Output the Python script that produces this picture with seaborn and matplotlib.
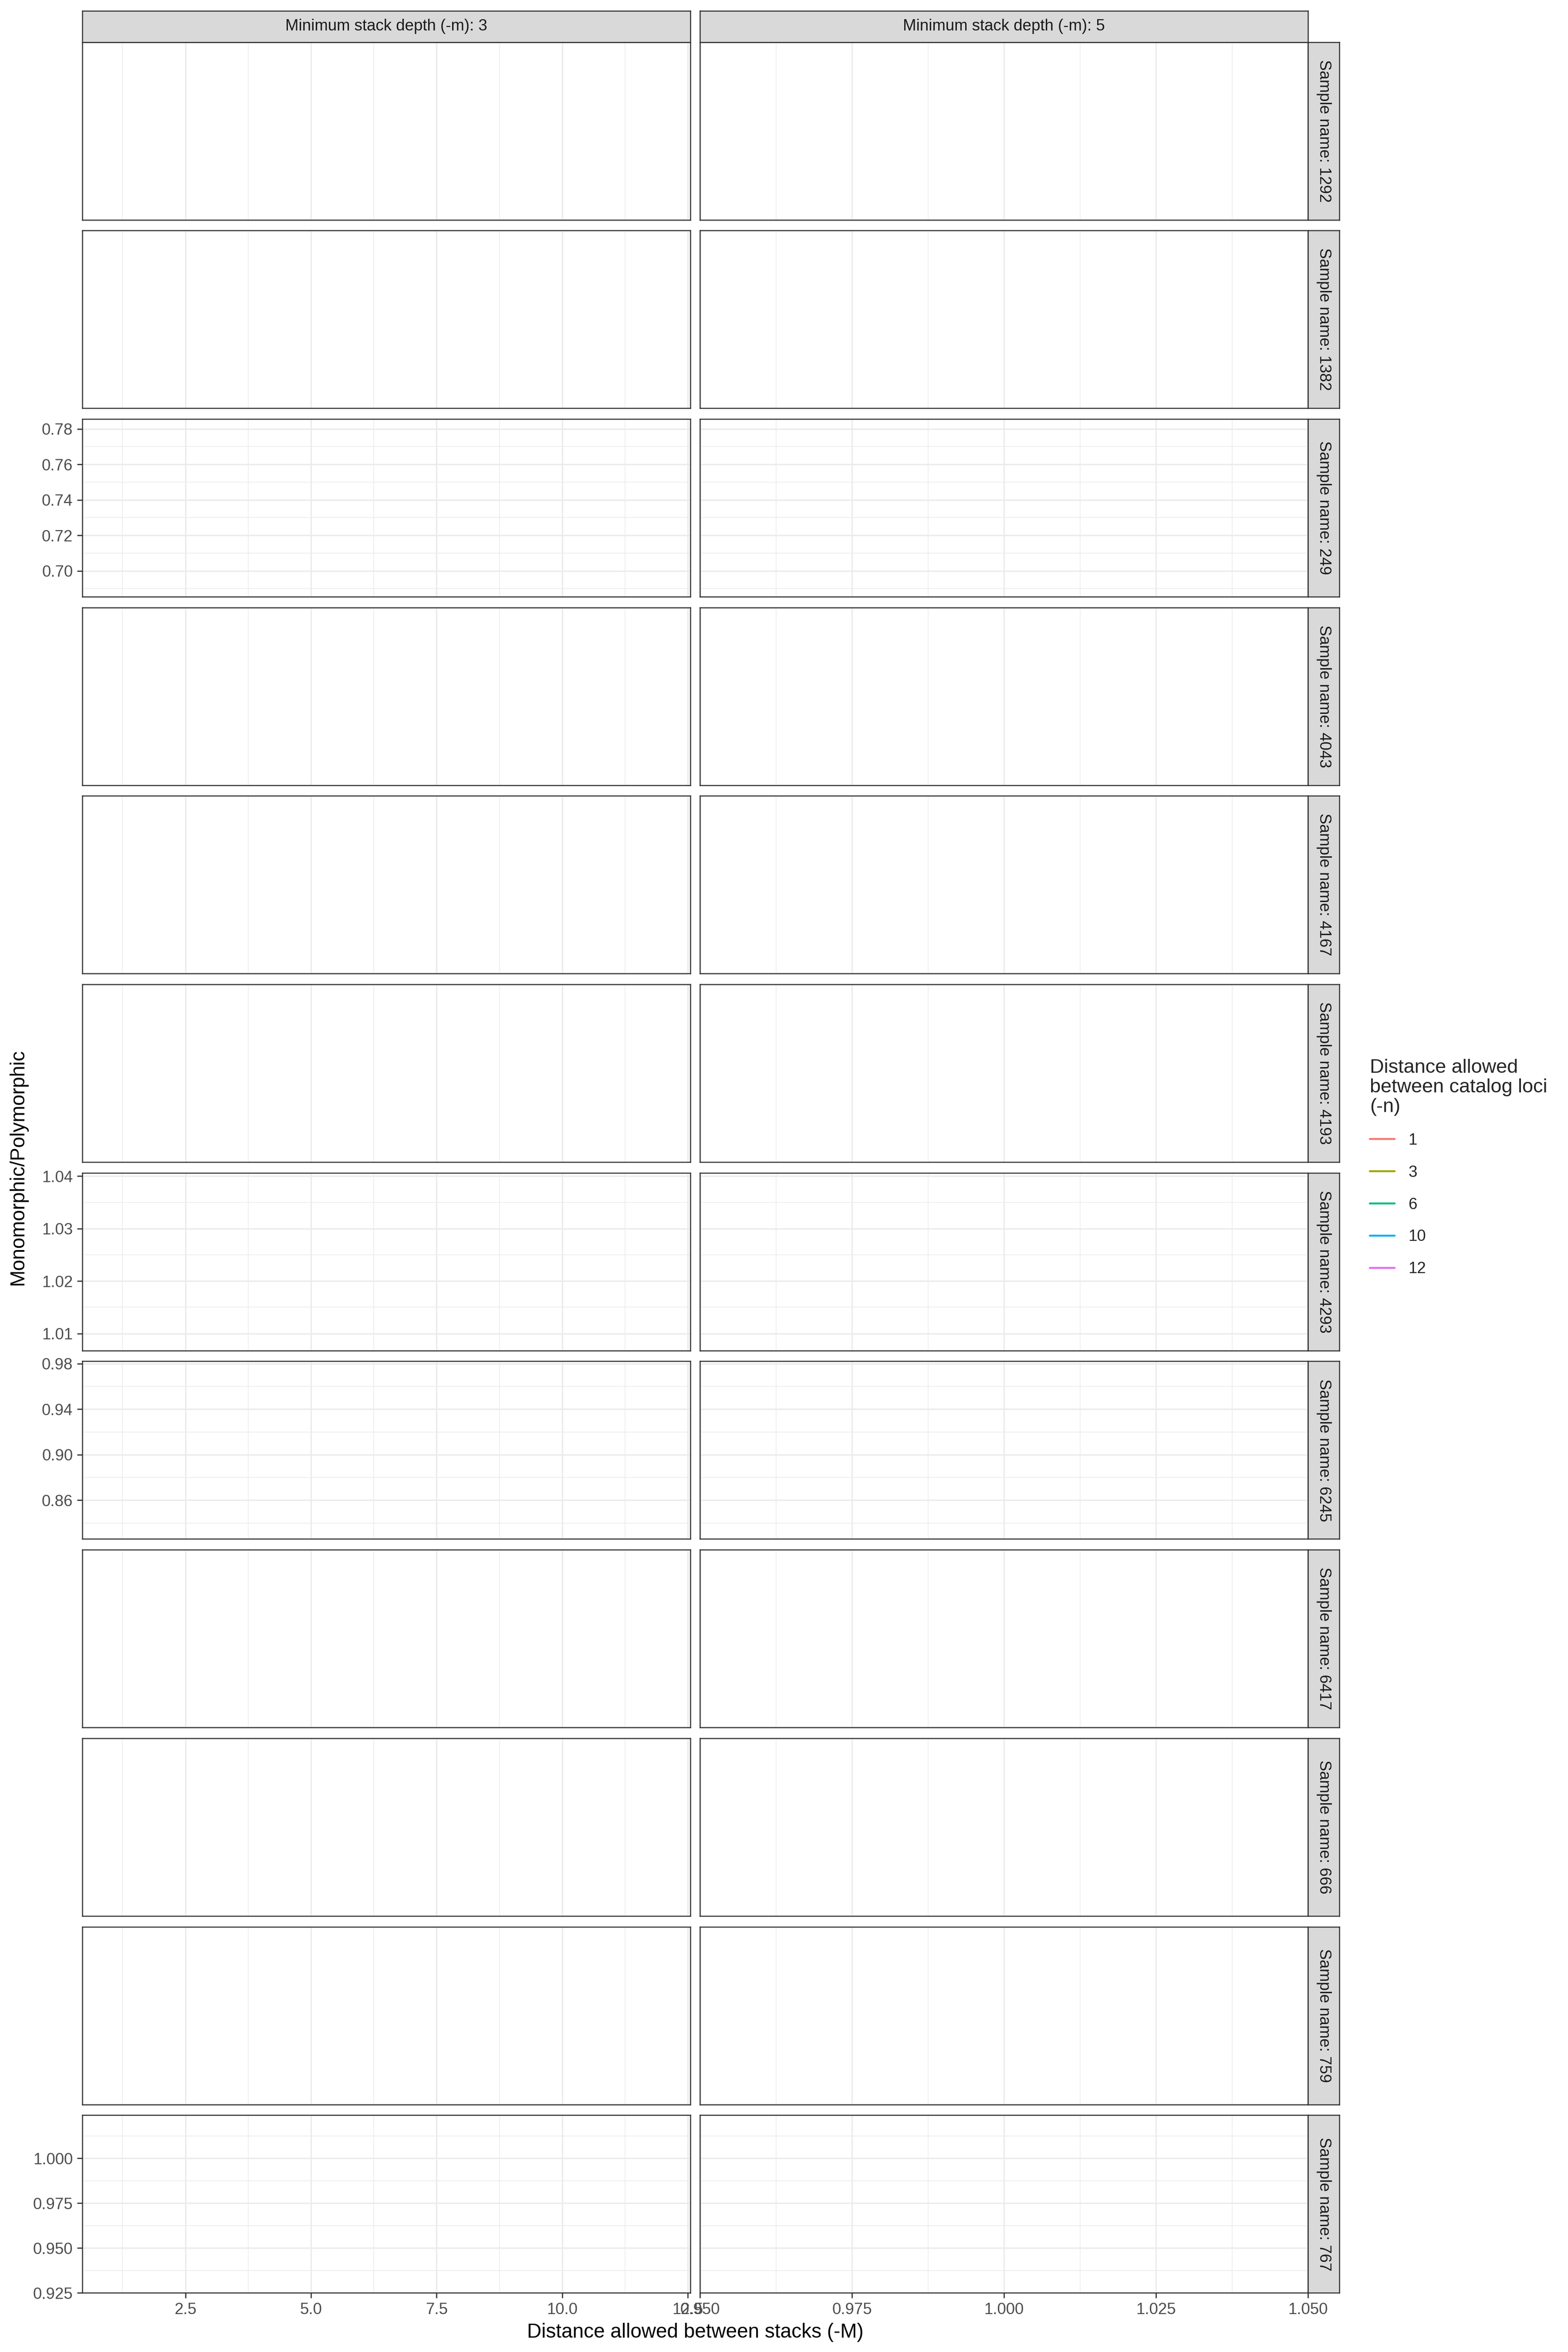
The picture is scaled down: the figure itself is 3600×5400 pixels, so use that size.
import matplotlib
matplotlib.use("Agg")
import matplotlib.pyplot as plt
import seaborn as sns
import pandas as pd
from matplotlib.lines import Line2D
from matplotlib.ticker import FixedLocator, MultipleLocator

# --- Data ---
samples = ["1292", "1382", "249", "4043", "4167", "4193",
           "4293", "6245", "6417", "666", "759", "767"]
min_depths = [3, 5]
n_levels = ["1", "3", "6", "10", "12"]
n_colors = ["#F8766D", "#A3A500", "#00BF7D", "#00B0F6", "#E76BF3"]

# every (sample, -m, -n) group holds a single point, so no line segment is drawn
pt_sample = ["249", "249", "249", "4293", "4293", "4293",
             "6245", "6245", "6245", "767", "767", "767"]
pt_m = [3, 3, 5, 3, 3, 5, 3, 3, 5, 3, 3, 5]
pt_M = [1, 12, 1, 1, 12, 1, 1, 12, 1, 1, 12, 1]
pt_n = ["1", "12", "3", "1", "12", "3", "1", "12", "3", "1", "12", "3"]
pt_ratio = [0.781, 0.690, 0.735, 1.0391, 1.0083, 1.021,
            0.975, 0.833, 0.905, 1.0195, 0.9295, 0.975]

y_breaks = {
    "249": [0.70, 0.72, 0.74, 0.76, 0.78],
    "4293": [1.01, 1.02, 1.03, 1.04],
    "6245": [0.86, 0.90, 0.94, 0.98],
    "767": [0.925, 0.950, 0.975, 1.000],
}
y_labels = {
    "249": ["0.70", "0.72", "0.74", "0.76", "0.78"],
    "4293": ["1.01", "1.02", "1.03", "1.04"],
    "6245": ["0.86", "0.90", "0.94", "0.98"],
    "767": ["0.925", "0.950", "0.975", "1.000"],
}
x_breaks = {3: [2.5, 5.0, 7.5, 10.0, 12.5], 5: [0.950, 0.975, 1.000, 1.025, 1.050]}
x_labels = {3: ["2.5", "5.0", "7.5", "10.0", "12.5"],
            5: ["0.950", "0.975", "1.000", "1.025", "1.050"]}

df = pd.DataFrame({"sample": pt_sample, "m": pt_m, "M": pt_M,
                   "n": pt_n, "ratio": pt_ratio})


def expand(vals):
    lo, hi = min(vals), max(vals)
    if hi == lo:
        return lo * 0.95, hi * 1.05
    pad = (hi - lo) * 0.05
    return lo - pad, hi + pad


# --- Style ---
sns.set_style("white")
plt.rcParams['font.family'] = ['Liberation Sans', 'DejaVu Sans']

W, H = 3600, 5400
fig = plt.figure(figsize=(12, 18), dpi=300)

GRID = "#EBEBEB"
DARK = "#333333"
col_left = [189, 1607]
col_w = 1396
row_top0 = 96.5
row_pitch = 432.7
row_h = 408
strip = 72


def rect(x, y, w, h):
    return [x / W, 1 - (y + h) / H, w / W, h / H]


palette = dict(zip(n_levels, n_colors))

for i, s in enumerate(samples):
    top = row_top0 + i * row_pitch
    sdf = df[df["sample"] == s]
    for j, m in enumerate(min_depths):
        ax = fig.add_axes(rect(col_left[j], top, col_w, row_h))
        pdf = sdf[sdf["m"] == m]
        if len(pdf):
            sns.lineplot(data=pdf, x="M", y="ratio", hue="n", palette=palette,
                         hue_order=n_levels, errorbar=None, legend=False, ax=ax)
        ax.set_xlabel("")
        ax.set_ylabel("")

        # x scale per column
        ax.set_xlim(*expand(df[df["m"] == m]["M"]))
        ax.xaxis.set_major_locator(FixedLocator(x_breaks[m]))
        step = x_breaks[m][1] - x_breaks[m][0]
        ax.xaxis.set_minor_locator(MultipleLocator(step / 2))
        if i == len(samples) - 1:
            ax.set_xticklabels(x_labels[m])
            ax.tick_params(axis="x", bottom=True, labelbottom=True)
        else:
            ax.tick_params(axis="x", bottom=False, labelbottom=False)

        # y scale per row
        if s in y_breaks:
            ax.set_ylim(*expand(sdf["ratio"]))
            ax.yaxis.set_major_locator(FixedLocator(y_breaks[s]))
            ystep = y_breaks[s][1] - y_breaks[s][0]
            ax.yaxis.set_minor_locator(MultipleLocator(ystep / 2))
            ax.set_yticklabels(y_labels[s])
            ax.grid(True, axis="y", which="major", color=GRID, lw=0.75)
            ax.grid(True, axis="y", which="minor", color=GRID, lw=0.38)
            if j == 0:
                ax.tick_params(axis="y", left=True, labelleft=True)
            else:
                ax.tick_params(axis="y", left=False, labelleft=False)
        else:
            ax.set_yticks([])
        ax.grid(True, axis="x", which="major", color=GRID, lw=0.75)
        ax.grid(True, axis="x", which="minor", color=GRID, lw=0.38)
        ax.tick_params(which="minor", length=0)
        ax.tick_params(which="major", direction="out", length=2.9, width=0.65,
                       color=DARK, labelcolor="#4D4D4D", labelsize=8.8, pad=2.3)
        ax.set_axisbelow(True)
        ax.set_facecolor("white")
        for sp in ax.spines.values():
            sp.set_visible(True)
            sp.set_color(DARK)
            sp.set_linewidth(0.6)

        # column strips on top row
        if i == 0:
            sax = fig.add_axes(rect(col_left[j], top - strip, col_w, strip))
            sax.set_facecolor("#D9D9D9")
            sax.set_xticks([])
            sax.set_yticks([])
            for sp in sax.spines.values():
                sp.set_color(DARK)
                sp.set_linewidth(0.6)
            sax.text(0.5, 0.5, f"Minimum stack depth (-m): {m}", ha="center",
                     va="center", fontsize=8.8, color="#1A1A1A",
                     transform=sax.transAxes)

    # row strip
    rax = fig.add_axes(rect(col_left[1] + col_w, top, strip, row_h))
    rax.set_facecolor("#D9D9D9")
    rax.set_xticks([])
    rax.set_yticks([])
    for sp in rax.spines.values():
        sp.set_color(DARK)
        sp.set_linewidth(0.6)
    rax.text(0.5, 0.5, f"Sample name: {s}", ha="center", va="center",
             rotation=-90, fontsize=8.8, color="#1A1A1A", transform=rax.transAxes)

# axis titles
panels_mid_y = (row_top0 + (len(samples) - 1) * row_pitch + row_h + row_top0) / 2
fig.text(41 / W, 1 - panels_mid_y / H, "Monomorphic/Polymorphic", rotation=90,
         ha="center", va="center", fontsize=11, color="black")
fig.text((col_left[0] + col_left[1] + col_w) / 2 / W, 1 - 5355 / H,
         "Distance allowed between stacks (-M)", ha="center", va="center",
         fontsize=11, color="black")

# legend
handles = [Line2D([0], [0], color=c, lw=1.07) for c in n_colors]
leg = fig.legend(handles, n_levels, title="Distance allowed\nbetween catalog loci\n(-n)",
                 loc="upper left", bbox_to_anchor=(3127 / W, 1 - 2413 / H),
                 frameon=False, fontsize=8.8, title_fontsize=10.8,
                 handlelength=1.55, handletextpad=0.85, labelspacing=1.06,
                 borderpad=0, alignment="left")
leg.get_title().set_linespacing(1.12)

fig.savefig("out.png", dpi=300)
